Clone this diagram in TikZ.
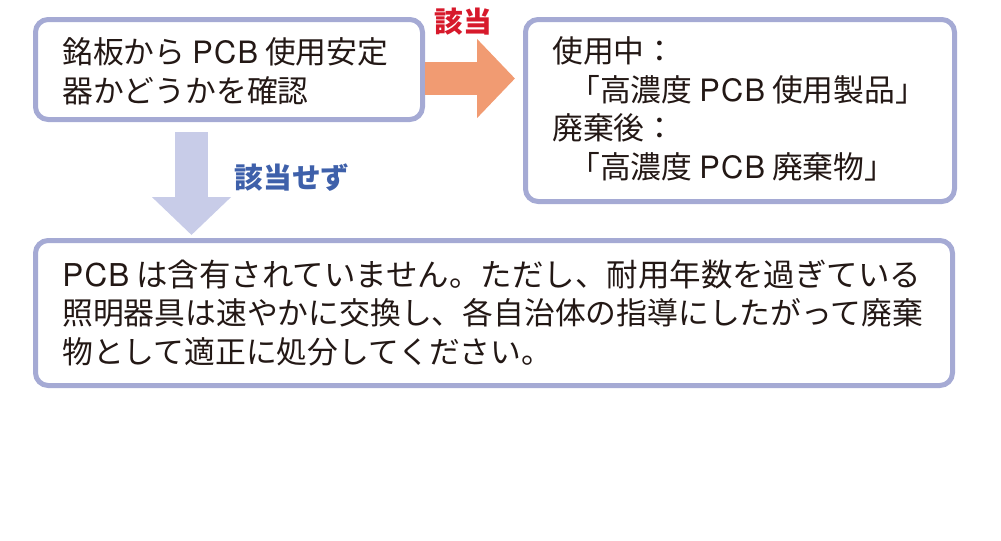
\documentclass[tikz,border=0pt]{standalone}
\usepackage{fontspec}
\setmainfont{Noto Sans CJK JP}
\newfontfamily\pcbfont{TeX Gyre Heros}[LetterSpace=4.0]
\usetikzlibrary{
  positioning, arrows.meta, calc
}
\definecolor{pcbframe}{HTML}{A5AAD4}
\definecolor{pcbdown}{HTML}{C8CCE8}
\definecolor{pcborange}{HTML}{F19B72}
\definecolor{pcbred}{HTML}{D7192B}
\definecolor{pcbblue}{HTML}{3E60AA}
\definecolor{pcbtext}{HTML}{231815}
\newcommand{\pcb}{{\pcbfont PCB}}

\begin{document}
\begin{tikzpicture}[
    x=0.75pt, y=-0.75pt,
    every node/.style={font=\fontsize{23.1pt}{29pt}\selectfont, text=pcbtext, inner sep=0pt},
    panel/.style={draw=pcbframe, line width=3.75pt, rounded corners=9.5pt, fill=white},
    textline/.style={anchor=base west},
    tag/.style={font=\fontsize{21.5pt}{26pt}\selectfont\bfseries},
    blockarrow/.style={line width=24.75pt, -{Triangle[width=57.75pt, length=28.5pt]}},
  ]
  \useasboundingbox (0,0) rectangle (1001,540);

  % Boxes
  \node[panel, minimum width=290.25pt, minimum height=75pt] (check) at (229,69.5) {};
  \node[panel, minimum width=321.75pt, minimum height=136.5pt] (hitbox) at (740,110.5) {};
  \node[panel, minimum width=687.75pt, minimum height=108.75pt] (missbox) at (494,313) {};

  % Arrows
  \coordinate (hitstart) at ($(check.east)+(0,9)$);
  \draw[blockarrow, pcborange] (hitstart) -- ($(hitstart -| hitbox.west)+(-8,0)$);
  \coordinate (missstart) at ($(check.south)+(-37.5,10)$);
  \draw[blockarrow, pcbdown] (missstart) -- ($(missstart |- missbox.north)+(0,-3)$);

  \node[tag, text=pcbred] (hit) at (463,22) {該当};
  \node[tag, text=pcbblue] (miss) at (292,177.5) {該当せず};

  % Texts
  \node[textline] (q1) at (62,63) {銘板から \pcb{} 使用安定};
  \node[textline] (q2) at (62,102.5) {器かどうかを確認};

  \node[textline] (h1) at (552,62) {使用中：};
  \node[textline] (h2) at (569,101.5) {「高濃度 \pcb{} 使用製品」};
  \node[textline] (h3) at (552,139.5) {廃棄後：};
  \node[textline] (h4) at (569,178) {「高濃度 \pcb{} 廃棄物」};

  \node[textline, font=\fontsize{23.6pt}{29pt}\selectfont] (m1) at (62,286)
    {\pcb{} は含有されていません。ただし、耐用年数を過ぎている};
  \node[textline] (m2) at (62,324.5) {照明器具は速やかに交換し、各自治体の指導にしたがって廃棄};
  \node[textline] (m3) at (62,363.5) {物として適正に処分してください。};
\end{tikzpicture}
\end{document}
